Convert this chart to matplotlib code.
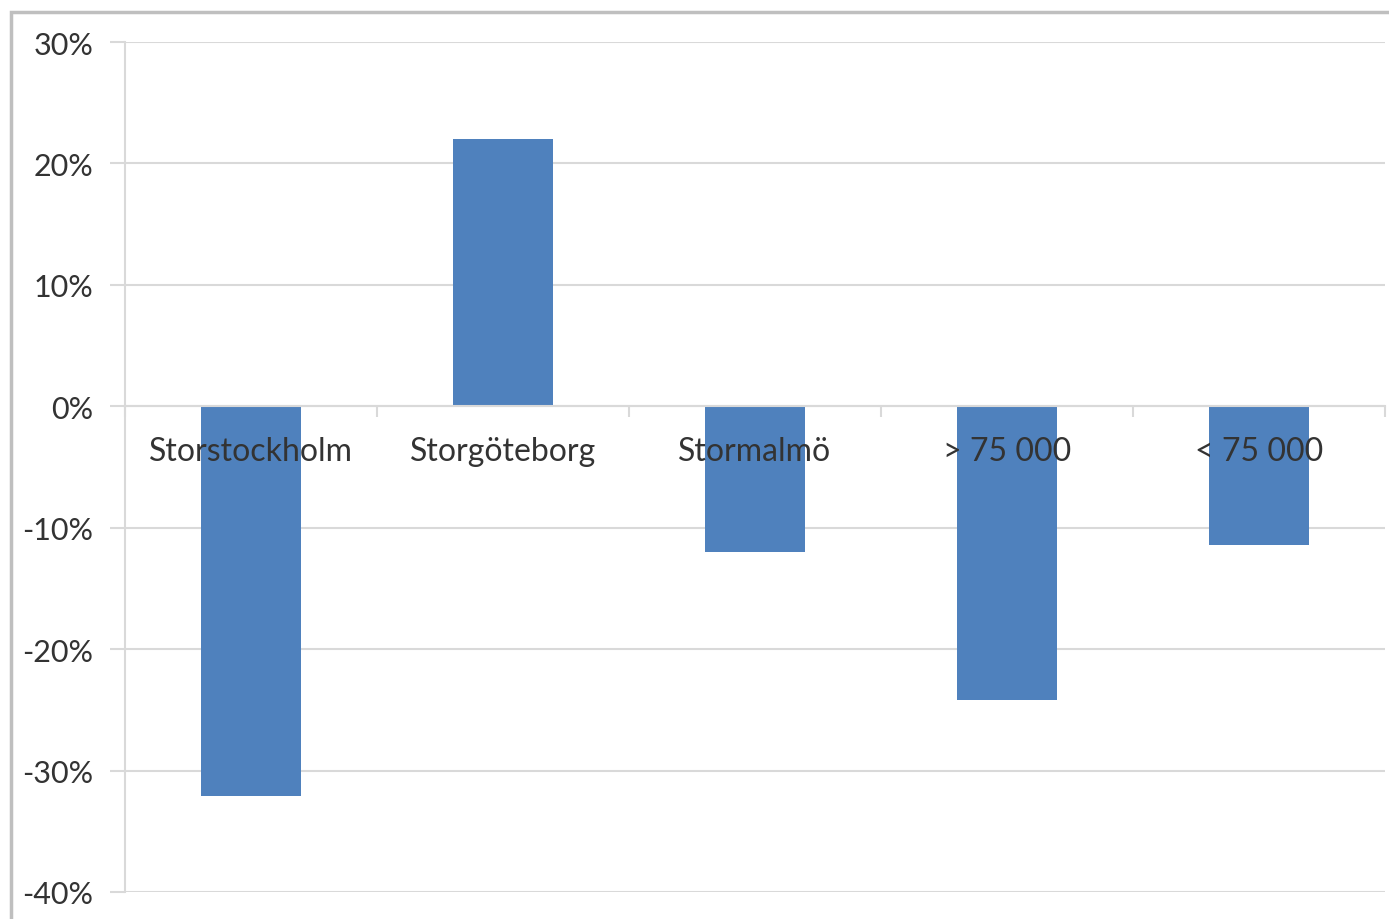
import matplotlib.pyplot as plt
from matplotlib.patches import Rectangle
from matplotlib.ticker import FuncFormatter
from matplotlib.transforms import offset_copy
import numpy as np

# data: change in percent per region
regions = ["Storstockholm", "Storgöteborg", "Stormalmö", "> 75 000", "< 75 000"]
change = [-32.1, 22.0, -12.0, -24.2, -11.4]
yticks = [30, 20, 10, 0, -10, -20, -30, -40]

bar_color = "#4f81bd"
grid_color = "#d9d9d9"
text_color = "#333333"

plt.rcParams['font.family'] = ['Lato', 'DejaVu Sans']

fig = plt.figure(figsize=(13.89, 9.2), dpi=100)
ax = fig.add_axes([125/1389, 1-893/920, 1260/1389, 850/920])

x = np.arange(len(regions))
ax.bar(x, change, width=0.4, color=bar_color, zorder=2)

ax.set_xlim(-0.5, len(regions)-0.5)
ax.set_ylim(-40, 30)
ax.set_yticks(yticks)
ax.yaxis.set_major_formatter(FuncFormatter(lambda v, p: f"{v:.0f}%"))
ax.grid(axis='y', color=grid_color, lw=1.5)
ax.tick_params(axis='y', length=11, width=1.5, color=grid_color,
               labelsize=22, labelcolor=text_color, pad=12)

# category axis sits on zero, ticks at the category boundaries
ax.spines['bottom'].set_position(('data', 0))
ax.spines['bottom'].set_color(grid_color)
ax.spines['bottom'].set_linewidth(1.5)
ax.set_xticks(np.arange(len(regions)+1) - 0.5)
ax.set_xticklabels([])
ax.tick_params(axis='x', which='major', length=8, width=1.5, color=grid_color)

# category names drawn over the bars, just under the zero line
trans = offset_copy(ax.transData, fig=fig, x=0, y=-45, units='dots')
for xi, name in zip(x, regions):
    ax.text(xi, 0, name, transform=trans, ha='center', va='center',
            fontsize=23, color=text_color, zorder=5)

ax.spines['left'].set_color(grid_color)
ax.spines['left'].set_linewidth(1.5)
ax.spines['top'].set_visible(False)
ax.spines['right'].set_visible(False)

# chart frame
fig.patches.append(Rectangle((11/1389, -0.1), 1.2, 1.1 - 13/920,
                             transform=fig.transFigure, fill=False,
                             edgecolor="#bfbfbf", lw=2.5))

fig.savefig("out.png", dpi=100)
